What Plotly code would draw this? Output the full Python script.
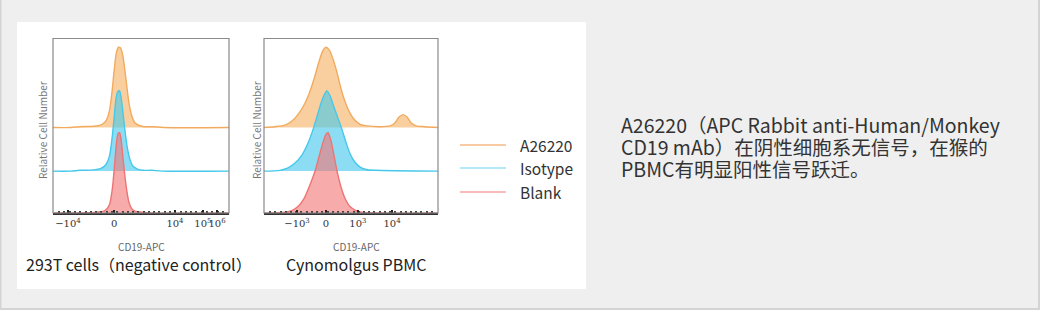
import plotly.graph_objects as go

W, H = 1040, 310

# ---------------- data (display channel 0-1000, normalized count 0-100) ----------------
series_names = ["A26220", "Isotype", "Blank"]

# 293T cells (negative control)
t293_a26220_x = [0, 100, 150, 230, 270, 300, 320, 335, 348, 360, 372, 384, 396, 408, 420, 432, 447, 465, 490, 520, 570, 630, 1000]
t293_a26220_y = [0, 0, 1, 1.5, 3, 8, 20, 44, 72, 93, 100, 99, 90, 72, 50, 30, 15, 6, 2.5, 1, 1, 0, 0]
t293_isotype_x = [0, 100, 150, 230, 270, 300, 320, 335, 348, 358, 368, 378, 388, 400, 412, 424, 438, 455, 480, 510, 560, 620, 1000]
t293_isotype_y = [0, 0, 1, 1.5, 3, 8, 18, 40, 68, 90, 99, 100, 90, 68, 45, 27, 14, 6, 2.5, 1, 1, 0, 0]
t293_blank_x = [0, 150, 250, 295, 320, 337, 350, 360, 370, 378, 386, 396, 408, 420, 432, 448, 470, 505, 560, 1000]
t293_blank_y = [0, 0, 1, 3, 10, 30, 60, 86, 99, 100, 93, 72, 47, 27, 13, 5, 2, 1, 0, 0]

# Cynomolgus PBMC
pbmc_a26220_x = [0, 63, 121, 161, 195, 230, 259, 287, 316, 339, 356, 374, 397, 420, 443, 466, 494, 523, 552, 592, 667, 724, 753, 776, 799, 822, 845, 874, 925, 1000]
pbmc_a26220_y = [0, 1, 3, 8, 16, 28, 42, 60, 82, 96, 100, 97, 85, 68, 48, 32, 18, 9, 4, 2, 1, 2, 6, 13, 16, 13, 6, 2, 1, 0]
pbmc_isotype_x = [0, 92, 138, 178, 218, 253, 282, 310, 333, 351, 362, 379, 402, 425, 448, 471, 494, 523, 552, 586, 638, 1000]
pbmc_isotype_y = [0, 1, 4, 10, 20, 35, 52, 72, 88, 97, 100, 94, 80, 66, 52, 36, 22, 11, 5, 2, 1, 0]
pbmc_blank_x = [0, 121, 161, 195, 230, 264, 293, 316, 339, 356, 368, 385, 402, 420, 443, 466, 494, 529, 563, 1000]
pbmc_blank_y = [0, 1, 3, 8, 18, 35, 52, 70, 88, 98, 100, 90, 72, 52, 32, 18, 8, 3, 1, 0]

# axis tick labels
t293_tickvals = [85, 347, 693, 852, 932]
t293_ticktext = ["−10<sup>4</sup>", "0", "10<sup>4</sup>", "10<sup>5</sup>", "10<sup>6</sup>"]
pbmc_tickvals = [190, 356, 540, 736]
pbmc_ticktext = ["−10<sup>3</sup>", "0", "10<sup>3</sup>", "10<sup>4</sup>"]

panel_titles = ["293T cells（negative control）", "Cynomolgus PBMC"]
x_title = "CD19-APC"
y_title = "Relative Cell Number"
description = ["A26220（APC Rabbit anti-Human/Monkey",
               "CD19 mAb）在阴性细胞系无信号，在猴的",
               "PBMC有明显阳性信号跃迁。"]

# ---------------- styles ----------------
offsets = [49, 24, 0]
SCALE = 0.46
line_cols = ["#f2aa5e", "#45c8ea", "#ee7474"]
fill_cols = ["rgba(246,178,100,0.62)", "rgba(70,200,236,0.62)", "rgba(242,120,120,0.62)"]
legend_cols = ["#f8cba4", "#b4e8f8", "#f8bcbc"]
FONT = "Noto Sans CJK SC, Noto Sans, sans-serif"

def px_x(p):
    return p / W

def px_y(p):
    return 1 - p / H

fig = go.Figure()

panels = [
    ("x", "y", [(t293_a26220_x, t293_a26220_y), (t293_isotype_x, t293_isotype_y), (t293_blank_x, t293_blank_y)]),
    ("x2", "y2", [(pbmc_a26220_x, pbmc_a26220_y), (pbmc_isotype_x, pbmc_isotype_y), (pbmc_blank_x, pbmc_blank_y)]),
]

for xa, ya, curves in panels:
    for i, (xs, ys) in enumerate(curves):
        off = offsets[i]
        fig.add_trace(go.Scatter(x=[0, 1000], y=[off, off], mode="lines",
                                 line=dict(width=0, color=line_cols[i]), xaxis=xa, yaxis=ya,
                                 showlegend=False, hoverinfo="skip"))
        fig.add_trace(go.Scatter(x=xs, y=[off + SCALE * v for v in ys], mode="lines",
                                 line=dict(width=1.4, color=line_cols[i], shape="spline", smoothing=0.8),
                                 fill="tonexty", fillcolor=fill_cols[i],
                                 xaxis=xa, yaxis=ya, name=series_names[i], showlegend=False))

dom1 = [px_x(53), px_x(229)]
dom2 = [px_x(264), px_x(438)]
ydom = [px_y(213), px_y(38.5)]

def xaxis_cfg(dom, tv, tt, anchor):
    return dict(domain=dom, range=[0, 1000], anchor=anchor, showgrid=False, zeroline=False,
                showline=True, linecolor="#333", linewidth=1.5,
                tickmode="array", tickvals=tv, ticktext=tt, ticks="inside", ticklen=3,
                tickcolor="#222", tickwidth=1.5, tickangle=0,
                minor=dict(ticks="inside", ticklen=2, tickcolor="#444", dtick=30, tick0=5),
                tickfont=dict(family="DejaVu Serif, serif", size=10, color="#333"), fixedrange=True)

def yaxis_cfg(anchor):
    return dict(domain=ydom, range=[0, 100], anchor=anchor, showgrid=False, zeroline=False,
                showline=False, showticklabels=False, ticks="", fixedrange=True)

fig.update_layout(
    width=W, height=H, margin=dict(l=0, r=0, t=0, b=0),
    paper_bgcolor="#efefef", plot_bgcolor="rgba(0,0,0,0)", showlegend=False,
    xaxis=xaxis_cfg(dom1, t293_tickvals, t293_ticktext, "y"),
    yaxis=yaxis_cfg("x"),
    xaxis2=xaxis_cfg(dom2, pbmc_tickvals, pbmc_ticktext, "y2"),
    yaxis2=yaxis_cfg("x2"),
)

shapes = []
# white panel
shapes.append(dict(type="rect", xref="paper", yref="paper", x0=px_x(17), x1=px_x(586),
                   y0=px_y(289), y1=px_y(22), fillcolor="white", line=dict(width=0), layer="below"))
# outer border (left, bottom, right)
for x0, y0, x1, y1 in [(0.5, 0, 0.5, 310), (0, 309, 1040, 309), (1039, 0, 1039, 310)]:
    shapes.append(dict(type="line", xref="paper", yref="paper", x0=px_x(x0), x1=px_x(x1),
                       y0=px_y(y0), y1=px_y(y1), line=dict(color="#d4d4d4", width=2)))
# frames
for xr, yr in [("x domain", "y domain"), ("x2 domain", "y2 domain")]:
    shapes.append(dict(type="rect", xref=xr, yref=yr, x0=0, x1=1, y0=0, y1=1,
                       line=dict(color="#8a8a8a", width=1.2), layer="above"))
# legend lines
legend_y = [145, 168, 192]
for i in range(3):
    shapes.append(dict(type="line", xref="paper", yref="paper", x0=px_x(460), x1=px_x(506),
                       y0=px_y(legend_y[i]), y1=px_y(legend_y[i]), line=dict(color=legend_cols[i], width=2)))
fig.update_layout(shapes=shapes)

ann = []
for i in range(3):
    ann.append(dict(text=series_names[i], xref="paper", yref="paper", x=px_x(518), y=px_y(legend_y[i]),
                    xanchor="left", yanchor="middle", showarrow=False,
                    font=dict(family=FONT, size=15.5, color="#333")))
# y titles
for cx in [42, 256]:
    ann.append(dict(text=y_title, xref="paper", yref="paper", x=px_x(cx), y=px_y(130),
                    xanchor="center", yanchor="middle", textangle=-90, showarrow=False,
                    font=dict(family=FONT, size=10, color="#777")))
# x titles
for cx in [141, 356]:
    ann.append(dict(text=x_title, xref="paper", yref="paper", x=px_x(cx), y=px_y(246),
                    xanchor="center", yanchor="middle", showarrow=False,
                    font=dict(family=FONT, size=10, color="#666")))
# panel titles
for cx, t in zip([139, 356], panel_titles):
    ann.append(dict(text=t, xref="paper", yref="paper", x=px_x(cx), y=px_y(264),
                    xanchor="center", yanchor="middle", showarrow=False,
                    font=dict(family=FONT, size=16, color="#222")))
# description
for k, line in enumerate(description):
    ann.append(dict(text=line, xref="paper", yref="paper", x=px_x(619), y=px_y(124 + 22 * k),
                    xanchor="left", yanchor="middle", showarrow=False,
                    font=dict(family=FONT, size=19.5, color="#333")))
fig.update_layout(annotations=ann)

fig.write_html("out.html")
